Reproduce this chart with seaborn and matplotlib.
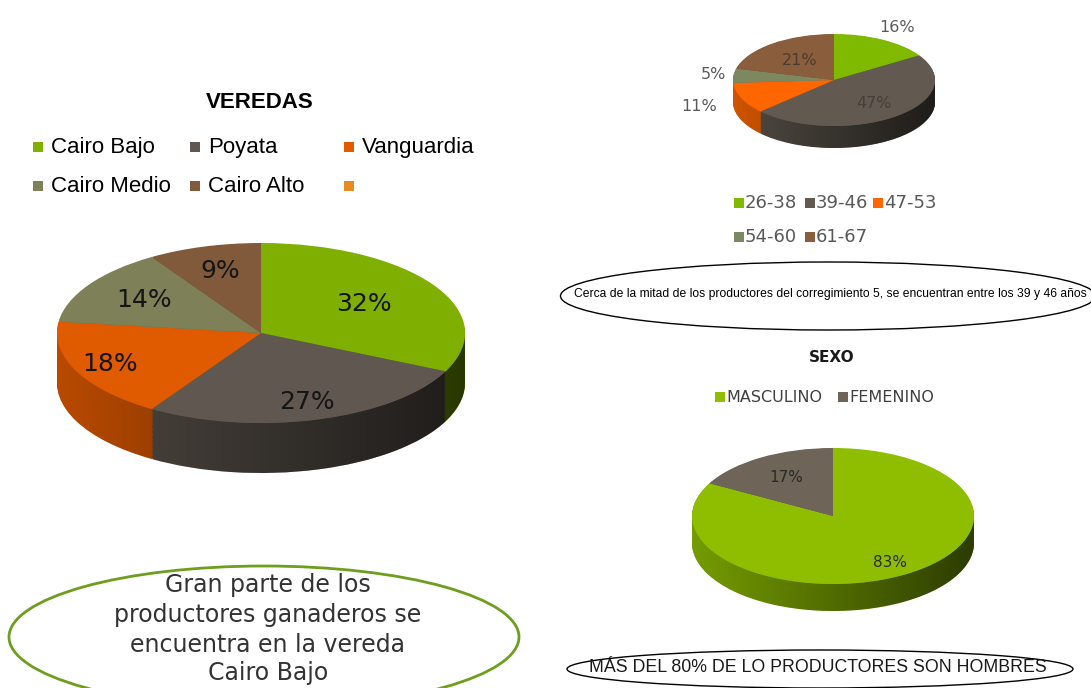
import numpy as np
import matplotlib
matplotlib.use("Agg")
import matplotlib.pyplot as plt
import matplotlib.colors as mcolors
from matplotlib.path import Path
from matplotlib.patches import PathPatch, Ellipse
import seaborn as sns

# --- data ---
veredas = ["Cairo Bajo", "Poyata", "Vanguardia", "Cairo Medio", "Cairo Alto"]
veredas_pct = [32, 27, 18, 14, 9]
edades = ["26-38", "39-46", "47-53", "54-60", "61-67"]
edades_pct = [16, 47, 11, 5, 21]
sexo = ["MASCULINO", "FEMENINO"]
sexo_pct = [83, 17]

veredas_colors = ["#7FAF00", "#605850", "#E05A00", "#7E8058", "#805A3A"]
extra_color = "#E68A22"   # empty 6th legend entry
edades_colors = ["#80BA00", "#625A50", "#FF6600", "#7E8860", "#8A5E3C"]
sexo_colors = ["#8FBE00", "#6E6458"]

W, H = 1091, 688
sns.set_theme(style="white")
plt.rcParams["font.family"] = ["DejaVu Sans"]

fig = plt.figure(figsize=(W / 100, H / 100), dpi=100)
fig.patch.set_facecolor("white")

shade = mcolors.LinearSegmentedColormap.from_list(
    "shade", [(0, 0, 0, 0.0), (0, 0, 0, 0.62)])


def pie3d(values, colors, cx, cy, rx, ry, depth, dists, fs, lcolors):
    """Fake 3D pie: stacked darker pies for the wall, top pie on top."""
    mx, top = 1.5, 1.5
    d = depth / ry
    bot = 1 + d + 0.1
    y_top, y_bot = cy - top * ry, cy + bot * ry
    ax = fig.add_axes([(cx - mx * rx) / W, 1 - y_bot / H,
                       2 * mx * rx / W, (y_bot - y_top) / H])
    side = [tuple(np.array(mcolors.to_rgb(c)) * 0.82) for c in colors]
    n = 40
    for k in range(n, 0, -1):
        ax.pie(values, colors=side, startangle=90, counterclock=False,
               center=(0, -d * k / n), radius=1,
               wedgeprops=dict(linewidth=0, zorder=1))
    # horizontal shading of the wall
    t = np.linspace(np.pi, 2 * np.pi, 120)
    xs = np.concatenate([np.cos(t), np.cos(t[::-1])])
    ys = np.concatenate([np.sin(t), np.sin(t[::-1]) - d])
    clip = PathPatch(Path(np.column_stack([xs, ys])), transform=ax.transData,
                     facecolor="none", edgecolor="none")
    im = ax.imshow(np.linspace(0, 1, 256)[None, :], cmap=shade,
                   extent=(-1, 1, -1 - d, 0.05), aspect="auto", zorder=1.5,
                   interpolation="bilinear")
    im.set_clip_path(clip)
    ax.pie(values, colors=colors, startangle=90, counterclock=False, radius=1,
           wedgeprops=dict(linewidth=0, zorder=2))
    cum = np.cumsum([0] + list(values[:-1]))
    for v, c0, dist, lc in zip(values, cum, dists, lcolors):
        ang = np.deg2rad(90 - 3.6 * (c0 + v / 2))
        ax.text(dist * np.cos(ang), dist * np.sin(ang), f"{v}%", ha="center",
                va="center", fontsize=fs, color=lc, zorder=3)
    ax.set_aspect("auto")
    ax.set_xlim(-mx, mx)
    ax.set_ylim(-bot, top)
    ax.axis("off")
    return ax


pie3d(veredas_pct, veredas_colors, 261, 333, 204, 90, 50,
      [0.6, 0.8, 0.82, 0.68, 0.72], 18, ["#151515"] * 5)
pie3d(edades_pct, edades_colors, 834, 80, 101, 46, 22,
      [1.3, 0.65, 1.45, 1.2, 0.55], 11.5,
      ["#5A5A5A", "#45403A", "#5A5A5A", "#5A5A5A", "#4A3C30"])
pie3d(sexo_pct, sexo_colors, 833, 516, 141, 68, 27,
      [0.8, 0.65], 11, ["#2A2A2A", "#2A2A2A"])

# --- overlay in pixel coordinates for titles, legends and notes ---
ov = fig.add_axes([0, 0, 1, 1])
ov.set_xlim(0, W)
ov.set_ylim(H, 0)
ov.axis("off")

arial = "Liberation Sans"

# VEREDAS
ov.text(260, 103, "VEREDAS", ha="center", va="center", fontsize=16,
        fontweight="bold", family=arial, color="black")
leg_names = veredas + [""]
leg_cols = veredas_colors + [extra_color]
col_x = [38, 195, 349]
row_y = [147, 186]
for i, (name, c) in enumerate(zip(leg_names, leg_cols)):
    x, y = col_x[i % 3], row_y[i // 3]
    ov.scatter([x], [y], marker="s", s=60, color=c, linewidths=0)
    ov.text(x + 13, y, name, ha="left", va="center", fontsize=16,
            family=arial, color="black")

# age legend
age_pos = [(739, 203), (810, 203), (878, 203), (739, 237), (810, 237)]
for (x, y), name, c in zip(age_pos, edades, edades_colors):
    ov.scatter([x], [y], marker="s", s=50, color=c, linewidths=0)
    ov.text(x + 6, y, name, ha="left", va="center", fontsize=13,
            color="#595959")

ov.add_patch(Ellipse((828, 296), 535, 68, facecolor="none",
                     edgecolor="black", lw=1))
ov.text(830, 294, "Cerca de la mitad de los productores del corregimiento 5, "
        "se encuentran entre los 39 y 46 años", ha="center", va="center",
        fontsize=8.7, family=arial, color="black")

# SEXO
ov.text(832, 357, "SEXO", ha="center", va="center", fontsize=11,
        fontweight="bold", color="#1A1A1A")
for x, name, c in zip([720, 843], sexo, sexo_colors):
    ov.scatter([x], [397], marker="s", s=50, color=c, linewidths=0)
    ov.text(x + 6, 397, name, ha="left", va="center", fontsize=11.5,
            color="#404040")

ov.add_patch(Ellipse((820, 669), 506, 38, facecolor="none",
                     edgecolor="black", lw=1))
ov.text(818, 668, "MÁS DEL 80% DE LO PRODUCTORES SON HOMBRES", ha="center",
        va="center", fontsize=12.8, family=arial, color="#1A1A1A")

# note under the VEREDAS pie
ov.add_patch(Ellipse((264, 637), 510, 142, facecolor="none",
                     edgecolor="#6E9E1E", lw=2))
note = ["Gran parte de los", "productores ganaderos se",
        "encuentra en la vereda", "Cairo Bajo"]
for y, line in zip([585, 615, 645, 673], note):
    ov.text(268, y, line, ha="center", va="center", fontsize=17,
            color="#333333")

fig.savefig("out.png", dpi=100)
